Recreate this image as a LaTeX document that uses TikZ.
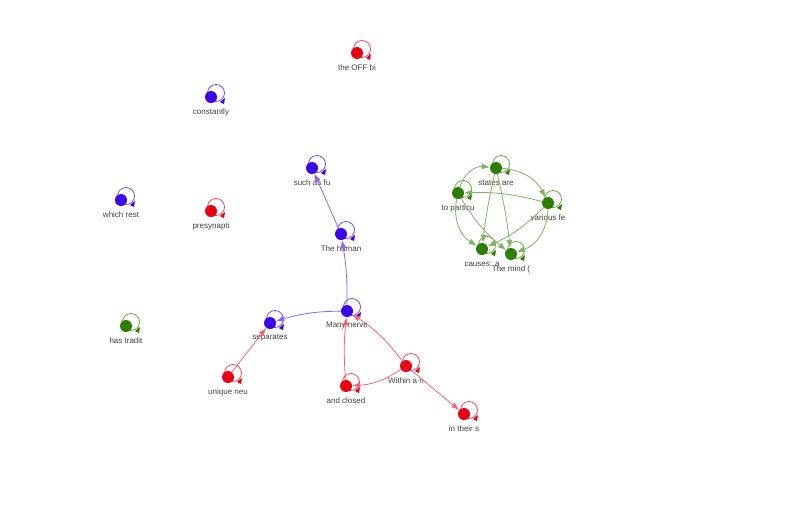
\documentclass[tikz,border=0pt]{standalone}
\usepackage{fontspec}
\setmainfont{Liberation Sans}
\usetikzlibrary{arrows.meta}
\definecolor{cr}{RGB}{232,0,20}
\definecolor{cb}{RGB}{60,0,235}
\definecolor{cg}{RGB}{45,125,0}
\tikzset{
 dot/.style={circle,fill=#1,inner sep=0pt,minimum size=9pt},
 lbl/.style={font=\fontsize{6}{7}\selectfont,text=black!75},
 edge/.style={draw=#1!60,line width=0.6pt,-{Latex[length=6pt,width=4.5pt]}},
}
\newcommand{\nd}[5]{%
 \draw[#4!70,line width=0.6pt] (#2+5,#3-4) circle (8.5);
 \fill[#4] (#2+9,#3+5) -- (#2+14,#3+1) -- (#2+13,#3+7) -- cycle;
 \node[dot=#4] (#1) at (#2,#3) {};
 \node[lbl] at (#2,#3+15) {#5};}
\begin{document}
\begin{tikzpicture}[x=0.75pt,y=-0.75pt]
\useasboundingbox (0,0) rectangle (806,504);
\nd{offbi}{357}{53}{cr}{the OFF bi}
\nd{constantly}{211}{97}{cb}{constantly}
\nd{suchas}{312}{168}{cb}{such as fu}
\nd{human}{341}{234}{cb}{The human}
\nd{which}{121}{200}{cb}{which rest}
\nd{presyn}{211}{211}{cr}{presynapti}
\nd{many}{347}{311}{cb}{Many nerve}
\nd{separates}{270}{323}{cb}{separates}
\nd{hastradit}{126}{326}{cg}{has tradit}
\nd{unique}{228}{377}{cr}{unique neu}
\nd{within}{406}{366}{cr}{Within a n}
\nd{closed}{346}{386}{cr}{and closed}
\nd{theirs}{464}{414}{cr}{in their s}
\nd{states}{496}{168}{cg}{states are}
\nd{topart}{458}{193}{cg}{to particu}
\nd{various}{548}{203}{cg}{various fe}
\nd{causes}{482}{249}{cg}{causes: a}
\nd{mind}{511}{254}{cg}{The mind (}
\draw[edge=cb] (human) -- (suchas);
\draw[edge=cb] (many) to[bend right=5] (human);
\draw[edge=cb] (many) to[bend right=8] (separates);
\draw[edge=cr] (unique) -- (separates);
\draw[edge=cr] (within) to[bend right=10] (many);
\draw[edge=cr] (closed) to[bend left=5] (many);
\draw[edge=cr] (within) to[bend left=15] (closed);
\draw[edge=cr] (within) -- (theirs);
\draw[edge=cg] (topart) to[bend left=40] (states);
\draw[edge=cg] (states) to[bend right=3] (causes);
\draw[edge=cg] (states) to[bend left=3] (mind);
\draw[edge=cg] (various) to[bend right=8] (topart);
\draw[edge=cg] (topart) to[bend right=35] (causes);
\draw[edge=cg] (various) to[bend left=10] (causes);
\draw[edge=cg] (states) to[bend left=30] (various);
\draw[edge=cg] (various) to[bend left=35] (mind);
\draw[edge=cg] (topart) to[bend right=10] (mind);
\end{tikzpicture}
\end{document}
